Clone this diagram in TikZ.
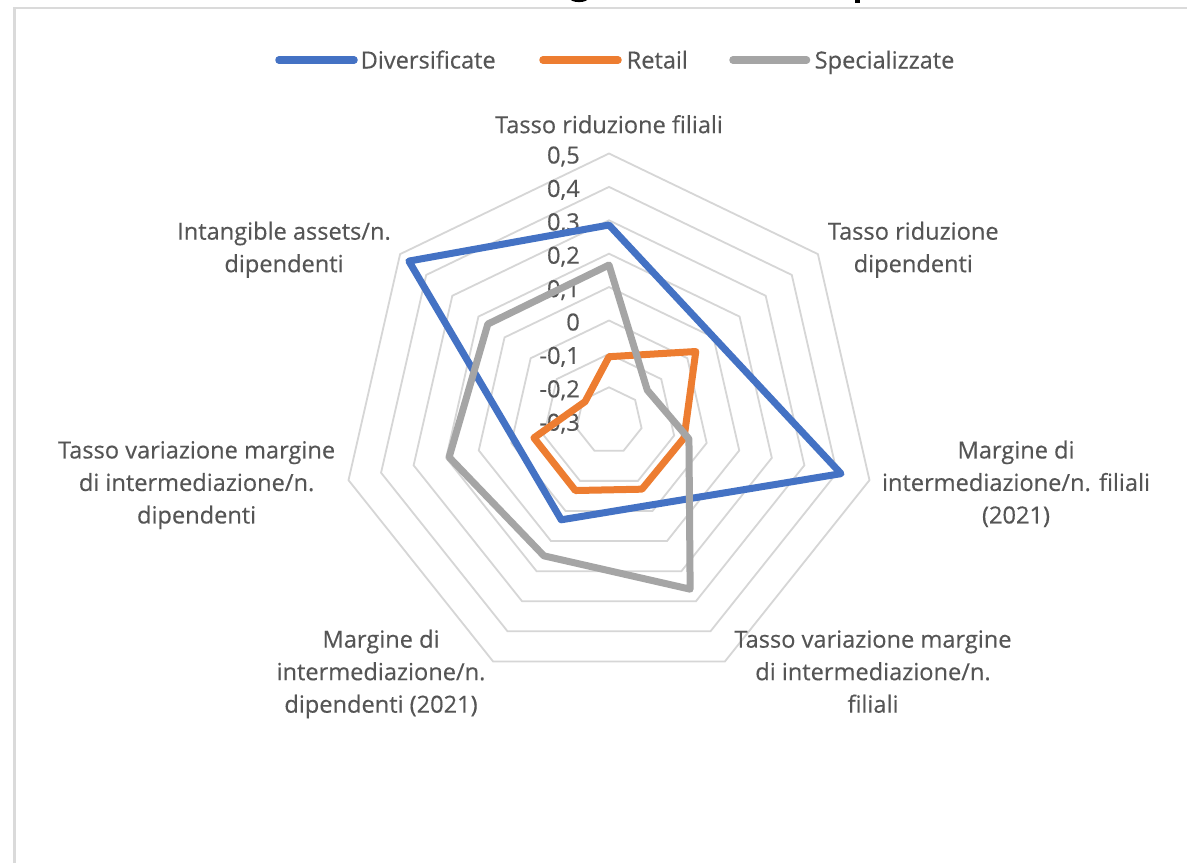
\documentclass[tikz,border=0pt]{standalone}
\usepackage{fontspec}
\setmainfont{Open Sans}[FakeBold=0.35]
\definecolor{serA}{HTML}{4472C4}
\definecolor{serB}{HTML}{ED7D31}
\definecolor{serC}{HTML}{A5A5A5}
\definecolor{gridc}{HTML}{D6D6D6}
\definecolor{framec}{HTML}{DADADA}
\definecolor{txt}{HTML}{555555}
\begin{document}
\begin{tikzpicture}[x=1pt,y=-1pt,
  lbl/.style={font=\fontsize{23.6}{32.5}\selectfont, text=txt, align=center, inner sep=0pt, anchor=north},
  val/.style={font=\fontsize{23.6}{32.5}\selectfont, text=txt, inner sep=0pt, anchor=base east},
  leg/.style={font=\fontsize{23.6}{32.5}\selectfont, text=txt, inner sep=0pt, anchor=base west},
  ring/.style={draw=gridc, line width=1.8pt, line join=miter},
  series/.style={line width=7pt, line join=round},
  legline/.style={line width=7.5pt, line cap=round},
  framel/.style={draw=framec, line width=2.5pt}
]
\fill[white] (0,0) rectangle (1187,863);
\path[use as bounding box] (0,0) rectangle (1187,863);
% frame of the chart area
\draw[framel] (14.5,863) -- (14.5,8) -- (1187,8);
% bits of the cut title
\begin{scope}
\clip (0,0) rectangle (1187,2.6);
\fill[black] (579,-1.5) ellipse (9 and 3.6);
\fill[black] (854.5,-1) rectangle (860,2.6);
\end{scope}

% legend
\draw[legline, serA] (279,60) -- (354,60);
\node[leg] (lgA) at (360.5,68.5) {Diversificate};
\draw[legline, serB] (543,60) -- (618,60);
\node[leg] (lgB) at (626.5,68.5) {Retail};
\draw[legline, serC] (733,60) -- (806.5,60);
\node[leg] (lgC) at (814.5,68.5) {Specializzate};

\begin{scope}[shift={(609,420.7)}]
  \foreach \k in {1,...,8} {
    \draw[ring] (-90:{\k*33.4}) \foreach \i in {1,...,6} { -- ({-90+\i*360/7}:{\k*33.4}) } -- cycle;
  }
\end{scope}

% value labels
\node[val] (t8) at (580,163.5) {0,5};
\node[val] (t7) at (580,196.9) {0,4};
\node[val] (t6) at (580,230.3) {0,3};
\node[val] (t5) at (580,263.7) {0,2};
\node[val] (t4) at (580,297.1) {0,1};
\node[val] (t3) at (580,330.5) {0};
\node[val] (t2) at (580,363.9) {-0,1};
\node[val] (t1) at (580,397.3) {-0,2};
\node[val] (t0) at (580,430.7) {-0,3};

% category labels
\node[lbl] (c1) at (609,110.2) {\strut Tasso riduzione filiali};
\node[lbl] (c2) at (913.3,216.7) {\strut Tasso riduzione\\\strut dipendenti};
\node[lbl] (c3) at (1016,435.5) {\strut Margine di\\\strut intermediazione/n. filiali\\\strut (2021)};
\node[lbl] (c4) at (873,624.7) {\strut Tasso variazione margine\\\strut di intermediazione/n.\\\strut filiali};
\node[lbl] (c5) at (381,624.7) {\strut Margine di\\\strut intermediazione/n.\\\strut dipendenti (2021)};
\node[lbl] (c6) at (196.6,435.5) {\strut Tasso variazione margine\\\strut di intermediazione/n.\\\strut dipendenti};
\node[lbl] (c7) at (284,216.7) {\strut Intangible assets/n.\\\strut dipendenti};

% series
\begin{scope}[shift={(609,420.7)}]
  \draw[series, serA] (-90:195.7) -- ({-90+1*360/7}:133.9) -- ({-90+2*360/7}:238) -- ({-90+3*360/7}:93.8)
     -- ({-90+4*360/7}:110) -- ({-90+5*360/7}:95.9) -- ({-90+6*360/7}:256) -- cycle;
  \draw[series, serB] (-90:64) -- ({-90+1*360/7}:111) -- ({-90+2*360/7}:77) -- ({-90+3*360/7}:76)
     -- ({-90+4*360/7}:77.5) -- ({-90+5*360/7}:77) -- ({-90+6*360/7}:30.6) -- cycle;
  \draw[series, serC] (-90:155.7) -- ({-90+1*360/7}:49) -- ({-90+2*360/7}:82) -- ({-90+3*360/7}:187)
     -- ({-90+4*360/7}:150) -- ({-90+5*360/7}:164) -- ({-90+6*360/7}:155) -- cycle;
\end{scope}
\end{tikzpicture}
\end{document}
